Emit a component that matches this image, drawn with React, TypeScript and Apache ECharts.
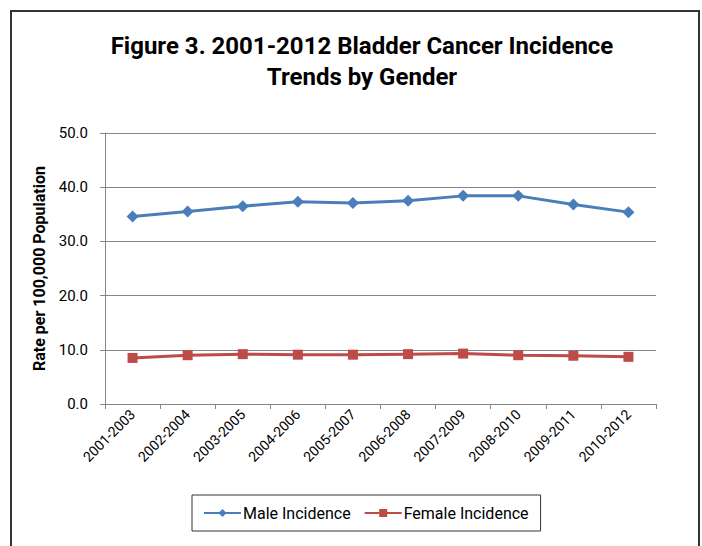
import React, { useEffect, useRef } from "react";
import * as echarts from "echarts";

const periods = [
  "2001-2003", "2002-2004", "2003-2005", "2004-2006", "2005-2007",
  "2006-2008", "2007-2009", "2008-2010", "2009-2011", "2010-2012",
];
const maleIncidence = [34.6, 35.5, 36.5, 37.3, 37.1, 37.5, 38.4, 38.4, 36.8, 35.4];
const femaleIncidence = [8.5, 9.0, 9.2, 9.1, 9.1, 9.2, 9.3, 9.0, 8.9, 8.7];

const FONT = "Roboto, 'Open Sans', sans-serif";
const GRID_GRAY = "#868686";

export default function App() {
  const ref = useRef<HTMLDivElement>(null);

  useEffect(() => {
    if (!ref.current) return;
    const chart = echarts.init(ref.current, undefined, { renderer: "svg" });
    chart.setOption({
      animation: false,
      backgroundColor: "#ffffff",
      textStyle: { fontFamily: FONT },
      graphic: [
        {
          type: "rect",
          shape: { x: 11, y: 11, width: 688, height: 600 },
          style: { fill: "none", stroke: "#333333", lineWidth: 2 },
          silent: true,
        },
      ],
      title: {
        text: "Figure 3. 2001-2012 Bladder Cancer Incidence\nTrends by Gender",
        left: 357,
        top: 25,
        textAlign: "center",
        textStyle: {
          fontFamily: FONT,
          fontSize: 24,
          fontWeight: "bold",
          color: "#000000",
          lineHeight: 31,
        },
      },
      legend: {
        left: 192,
        top: 495,
        padding: [10, 12, 10, 11],
        borderColor: "#333333",
        borderWidth: 1,
        itemWidth: 37,
        itemHeight: 10,
        itemGap: 13,
        textStyle: { fontFamily: FONT, fontSize: 16, color: "#000000", padding: [0, 0, 0, -3] },
        data: ["Male Incidence", "Female Incidence"],
      },
      grid: { left: 105, right: 46, top: 133, bottom: 142 },
      xAxis: {
        type: "category",
        data: periods,
        boundaryGap: true,
        axisLine: { lineStyle: { color: GRID_GRAY, width: 1 } },
        axisTick: { show: true, length: 5, lineStyle: { color: GRID_GRAY } },
        axisLabel: {
          rotate: 45,
          fontFamily: FONT,
          fontSize: 14,
          color: "#000000",
          margin: 8,
          interval: 0,
        },
      },
      yAxis: {
        type: "value",
        min: 0,
        max: 50,
        interval: 10,
        name: "Rate per 100,000 Population",
        nameLocation: "middle",
        nameGap: 58,
        nameTextStyle: { fontFamily: FONT, fontSize: 16, fontWeight: "bold", color: "#000000" },
        axisLine: { show: true, lineStyle: { color: GRID_GRAY, width: 1 } },
        axisTick: { show: true, length: 5, lineStyle: { color: GRID_GRAY } },
        splitLine: { lineStyle: { color: GRID_GRAY, width: 1 } },
        axisLabel: {
          fontFamily: FONT,
          fontSize: 15,
          color: "#000000",
          margin: 17,
          formatter: (v: number) => v.toFixed(1),
        },
      },
      series: [
        {
          name: "Male Incidence",
          type: "line",
          data: maleIncidence,
          symbol: "diamond",
          symbolSize: 12,
          lineStyle: { color: "#4a7ebb", width: 3 },
          itemStyle: { color: "#4a7ebb" },
        },
        {
          name: "Female Incidence",
          type: "line",
          data: femaleIncidence,
          symbol: "rect",
          symbolSize: 10,
          lineStyle: { color: "#be4b48", width: 3 },
          itemStyle: { color: "#be4b48" },
        },
      ],
    });
    return () => chart.dispose();
  }, []);

  return (
    <div
      ref={ref}
      style={{ position: "fixed", left: 0, top: 0, width: 702, height: 546 }}
    />
  );
}
